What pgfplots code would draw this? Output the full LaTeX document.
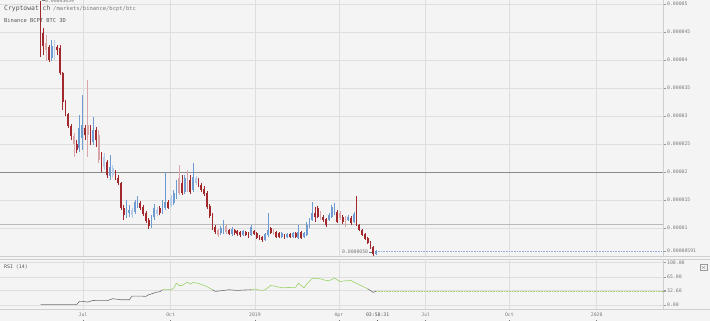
\documentclass[border=0pt]{standalone}
\usepackage{pgfplots}
\pgfplotsset{compat=1.18}
\usepackage{pgfplotstable}
\usepackage{fontspec}
\setmonofont{DejaVu Sans Mono}
\definecolor{bg}{HTML}{F4F4F4}
\definecolor{gridgray}{HTML}{DEDEDE}
\definecolor{axisgray}{HTML}{CFCFCF}
\definecolor{tickgray}{HTML}{9A9A9A}
\definecolor{labelgray}{HTML}{7A7A7A}
\definecolor{titlegray}{HTML}{555555}
\definecolor{cDown}{HTML}{A2282E}
\definecolor{cDownL}{HTML}{D8A6A8}
\definecolor{cUp}{HTML}{6E9BD1}
\definecolor{cUpL}{HTML}{B6CBE7}
\definecolor{lineA}{HTML}{8A8A8A}
\definecolor{lineB}{HTML}{BBBBBB}
\definecolor{rsigray}{HTML}{707070}
\definecolor{rsigreen}{HTML}{9CD36A}

% candles: d = days from 1 Jul 2018, prices in 1e-6 BTC
\pgfplotstableread{
d o h l c
-48 50.18 50.59 40.54 44.82
-45 44.82 45.71 40.89 42.5
-39 42.32 42.68 39.64 40.0
-30 42.32 42.68 40.89 41.79
-27 42.14 42.68 37.32 37.68
-24 37.68 37.86 31.07 32.5
-21 32.5 32.86 30.0 30.36
-18 30.36 30.54 27.86 28.21
-15 28.21 28.57 25.71 26.43
-9 25.0 25.71 23.39 23.93
0 27.86 28.39 25.71 26.61
6 27.5 28.39 24.82 25.36
12 27.5 28.04 24.46 25.71
18 22.68 23.57 20.0 20.71
24 21.79 22.14 18.93 19.46
33 20.0 20.36 18.57 18.93
36 18.93 19.46 17.68 18.04
39 18.04 18.21 13.21 13.57
42 13.57 14.11 11.43 12.32
60 14.46 14.82 13.21 13.57
63 13.75 14.11 12.14 12.5
66 12.68 13.04 10.89 11.25
69 11.43 11.79 9.82 10.36
81 13.57 13.93 12.32 12.68
90 14.64 15.0 13.39 13.57
105 18.04 19.46 15.89 16.25
114 18.57 19.46 16.07 16.43
123 18.57 18.93 17.32 17.68
126 17.68 18.04 16.43 16.79
129 16.96 17.5 15.71 16.07
132 16.25 16.61 13.39 13.75
135 13.93 14.29 11.79 12.14
138 12.32 12.68 9.64 10.0
141 10.18 10.54 8.93 9.29
156 9.64 9.82 8.75 8.93
162 9.64 9.82 8.75 9.11
165 9.46 9.64 8.57 8.93
168 9.29 9.46 8.39 8.75
174 9.29 9.46 8.57 8.75
177 9.11 9.29 8.21 8.39
183 9.46 9.64 8.75 8.93
186 9.11 9.29 8.04 8.21
189 8.57 8.75 7.86 8.21
192 8.39 8.57 7.5 7.86
201 10.0 10.18 8.93 9.11
207 9.29 9.46 8.21 8.39
210 9.11 9.29 8.21 8.39
216 8.75 8.93 8.04 8.21
222 8.93 9.11 8.21 8.39
228 9.11 9.29 8.21 8.39
234 9.29 9.46 8.04 8.21
249 12.68 13.75 11.07 11.96
252 13.57 13.93 11.79 11.96
258 11.96 12.32 11.07 11.43
261 11.61 11.79 10.18 10.54
273 12.86 13.21 10.89 11.07
279 11.96 12.32 10.71 11.07
288 11.79 12.14 10.54 10.89
294 11.96 15.71 10.36 10.54
297 10.54 10.71 9.46 9.64
300 9.64 9.82 8.57 8.75
303 8.93 9.11 7.86 8.04
306 8.21 8.39 7.14 7.32
309 7.5 7.68 6.25 6.61
312 6.61 6.79 5.0 5.36
}\downdark

\pgfplotstableread{
d o h l c
-42 43.04 44.46 39.82 41.79
-12 26.43 26.96 22.68 25.0
3 28.39 36.43 22.68 26.61
15 26.61 27.5 21.61 22.14
102 18.93 21.25 15.89 16.25
111 19.29 20.36 16.43 16.79
144 9.64 9.82 8.39 8.75
153 10.36 10.54 8.93 9.29
204 9.64 9.82 8.75 8.93
255 12.68 13.04 11.43 11.79
276 12.68 13.04 11.43 11.79
282 11.79 12.14 10.18 10.36
}\downlight

\pgfplotstableread{
d o h l c
-36 40.36 43.57 39.82 42.5
-6 24.29 30.18 23.57 27.86
-3 26.07 33.75 23.93 28.39
9 25.36 29.82 24.82 27.5
27 19.29 23.04 18.57 20.89
45 12.32 15.0 11.79 14.64
48 12.68 14.11 11.96 13.21
54 12.86 15.0 12.5 14.64
57 13.93 15.71 13.57 15.36
72 10.54 12.32 10.0 11.96
75 11.96 14.29 11.43 13.57
84 12.86 15.0 12.5 14.46
87 13.57 20.0 13.21 14.64
96 14.46 16.79 14.11 16.25
99 15.54 18.57 15.18 18.04
108 16.43 19.46 16.07 18.93
117 16.79 21.61 16.43 19.11
147 9.11 10.36 8.75 10.0
150 9.29 11.43 8.93 10.89
159 8.93 10.18 8.57 9.82
171 8.75 9.64 8.57 9.46
180 8.75 10.54 8.57 10.18
195 7.86 9.11 7.68 8.93
198 8.75 12.68 8.39 9.64
213 8.39 9.29 8.21 9.11
219 8.39 9.11 8.21 8.93
225 8.39 9.29 8.21 9.11
231 8.21 10.54 8.04 9.29
237 8.39 9.29 8.21 9.11
240 8.75 11.07 8.57 10.54
243 10.18 11.79 10.0 11.43
246 11.43 14.64 11.25 12.68
264 11.43 12.68 11.25 12.32
267 11.96 14.11 11.79 13.75
270 12.68 14.46 12.32 13.21
285 11.43 12.32 11.25 11.96
291 11.07 12.86 10.89 12.5
315 5.36 6.05 5.15 5.91
}\updark

\pgfplotstableread{
d o h l c
-33 40.71 43.57 40.0 42.14
21 20.89 23.39 20.36 22.68
30 19.46 21.25 18.93 20.71
51 12.32 13.57 11.79 13.21
78 12.5 13.75 12.14 13.21
93 14.11 15.89 13.75 15.36
120 18.04 19.29 17.68 18.93
}\uplight

% RSI(14) segments
\pgfplotstableread{
d r
-48 0.8
-9 0.8
-6 8.5
-3 8.5
3 7.0
9 10.8
12 10.1
24 10.1
30 14.7
39 12.4
48 12.4
51 20.9
60 20.9
66 20.2
69 24.0
78 30.2
81 31.0
84 35.7
}\rsiA
\pgfplotstableread{
d r
84 35.7
93 35.7
96 39.5
99 51.2
102 45.7
105 45.7
111 53.5
114 48.8
117 52.7
123 50.4
132 43.4
138 35.7
}\rsiB
\pgfplotstableread{
d r
138 35.7
141 31.8
150 34.1
156 35.7
165 34.1
171 34.9
180 35.7
}\rsiC
\pgfplotstableread{
d r
180 35.7
183 37.2
189 34.9
192 34.1
195 35.7
201 45.7
207 43.4
213 40.3
222 41.1
228 41.1
231 51.2
237 40.3
240 48.8
246 62.8
255 61.2
258 58.9
264 56.6
270 62.8
276 55.0
282 56.6
288 57.4
291 53.5
297 47.3
306 38.0
}\rsiD
\pgfplotstableread{
d r
306 38.0
312 29.5
315 32.6
}\rsiE

\pgfplotsset{
  wick/.style={draw=none, mark=none, error bars/.cd, y dir=plus, y explicit, error mark=none,
    error bar style={draw=#1, line width=0.6pt}},
  body/.style={draw=none, mark=none, error bars/.cd, y dir=plus, y explicit, error mark=none,
    error bar style={draw=#1, line width=1.8pt}},
}
\newcommand{\tlfont}{\ttfamily\fontsize{4.8pt}{5pt}\selectfont}
\newcommand{\tk}[1]{#1\\[1.2pt]\rule{0.45pt}{2.6pt}}

\begin{document}
\begin{tikzpicture}[x=1pt,y=1pt]
\fill[bg] (0,0) rectangle (710,321);
\useasboundingbox (0,0) rectangle (710,321);
\draw[axisgray, line width=0.6pt] (0,65) -- (710,65);
\draw[axisgray, line width=0.6pt] (0,62) -- (710,62);
\draw[axisgray, line width=0.6pt] (0,12) -- (710,12);

\begin{axis}[
  at={(0pt,65pt)}, anchor=south west, scale only axis,
  width=663pt, height=256pt,
  xmin=-91.9, xmax=625.6, ymin=5, ymax=50.714,
  axis x line*=bottom, axis y line*=right,
  x axis line style={draw=none}, y axis line style={draw=axisgray, line width=0.6pt},
  xtick={-2.1,92.8,184,274.9,368.8,459.3,553.8}, xticklabels={}, xtick style={draw=none},
  ytick={10,15,20,25,30,35,40,45,50},
  yticklabels={0.00001,0.000015,0.00002,0.000025,0.00003,0.000035,0.00004,0.000045,0.00005},
  grid=major, grid style={gridgray, line width=0.5pt},
  tick align=outside, major tick length=3pt,
  ytick style={draw=tickgray, line width=0.5pt},
  yticklabel style={font=\tlfont, text=labelgray, anchor=west, inner sep=0pt, xshift=1pt},
  extra y ticks={5.91}, extra y tick labels={0.00000591},
  extra y tick style={grid=none, major tick style={draw=cUp, line width=0.6pt}},
]
\addplot[draw=lineB, line width=1.6pt] coordinates {(-91.9,10.66) (625.6,10.66)};
\addplot[draw=lineA, line width=0.8pt] coordinates {(-91.9,20) (625.6,20)};
\addplot[draw=cUp!80, densely dotted, line width=0.6pt] coordinates {(317,5.91) (625.6,5.91)};

\addplot[wick=cDownL] table[x=d, y=l, y error expr=\thisrow{h}-\thisrow{l}] {\downlight};
\addplot[body=cDownL] table[x=d, y=c, y error expr=\thisrow{o}-\thisrow{c}] {\downlight};
\addplot[wick=cUpL] table[x=d, y=l, y error expr=\thisrow{h}-\thisrow{l}] {\uplight};
\addplot[body=cUpL] table[x=d, y=o, y error expr=\thisrow{c}-\thisrow{o}] {\uplight};
\addplot[wick=cDown] table[x=d, y=l, y error expr=\thisrow{h}-\thisrow{l}] {\downdark};
\addplot[body=cDown] table[x=d, y=c, y error expr=\thisrow{o}-\thisrow{c}] {\downdark};
\addplot[wick=cUp] table[x=d, y=l, y error expr=\thisrow{h}-\thisrow{l}] {\updark};
\addplot[body=cUp] table[x=d, y=o, y error expr=\thisrow{c}-\thisrow{o}] {\updark};

\coordinate (hi) at (axis cs:-48,50.59);
\coordinate (lo) at (axis cs:312,5.0);
\end{axis}

\begin{axis}[
  at={(0pt,12pt)}, anchor=south west, scale only axis,
  width=663pt, height=50pt,
  xmin=-91.9, xmax=625.6, ymin=-9.37, ymax=107.7,
  axis x line*=bottom, axis y line*=right,
  x axis line style={draw=none}, y axis line style={draw=axisgray, line width=0.6pt},
  xtick={-2.1,92.8,184,274.9,368.8,459.3,553.8},
  xticklabels={\tk{Jul},\tk{Oct},\tk{2019},\tk{Apr},\tk{Jul},\tk{Oct},\tk{2020}},
  xtick style={draw=none},
  xticklabel style={font=\tlfont, text=labelgray, align=center, inner sep=0pt, yshift=-1pt},
  extra x ticks={316.8}, extra x tick labels={\tk{03:58:31}},
  extra x tick style={grid=none, xticklabel style={text=titlegray}},
  ytick={0,35,65,100}, yticklabels={0.00,,65.00,100.00},
  grid=major, grid style={gridgray, line width=0.5pt},
  tick align=outside, major tick length=3pt,
  ytick style={draw=tickgray, line width=0.5pt},
  yticklabel style={font=\tlfont, text=labelgray, anchor=west, inner sep=0pt, xshift=1pt},
  extra y ticks={32.6}, extra y tick labels={32.60},
  extra y tick style={grid=none, major tick style={draw=rsigreen, line width=0.6pt}},
]
\addplot[draw=rsigreen, densely dotted, line width=0.6pt] coordinates {(315,32.6) (625.6,32.6)};
\addplot[draw=rsigray, line width=0.6pt] table[x=d, y=r] {\rsiA};
\addplot[draw=rsigreen, line width=0.6pt] table[x=d, y=r] {\rsiB};
\addplot[draw=rsigray, line width=0.6pt] table[x=d, y=r] {\rsiC};
\addplot[draw=rsigreen, line width=0.6pt] table[x=d, y=r] {\rsiD};
\addplot[draw=rsigray, line width=0.6pt] table[x=d, y=r] {\rsiE};
\end{axis}

% annotations
\draw[labelgray, line width=0.4pt] ([xshift=1pt]hi) -- ++(3pt,0)
  node[anchor=west, inner sep=0.4pt, font=\tlfont, text=labelgray] {0.00005059};
\draw[labelgray, line width=0.4pt] ([xshift=-1.5pt,yshift=4pt]lo) -- ++(-3pt,0)
  node[anchor=east, inner sep=0.4pt, font=\tlfont, text=labelgray] {0.0000050};

\node[anchor=base west, inner sep=0pt, font=\ttfamily\fontsize{6.4pt}{7pt}\selectfont, text=titlegray] at (4,310) {Cryptowat.ch};
\node[anchor=base west, inner sep=0pt, font=\ttfamily\fontsize{5.5pt}{6pt}\selectfont, text=labelgray] at (53,310) {/markets/binance/bcpt/btc};
\node[anchor=base west, inner sep=0pt, font=\ttfamily\fontsize{5.4pt}{6pt}\selectfont, text=titlegray] at (4,298.5) {Binance BCPT BTC 3D};
\node[anchor=base west, inner sep=0pt, font=\ttfamily\fontsize{4.9pt}{5pt}\selectfont, text=titlegray] at (4,52) {RSI (14)};
\draw[tickgray, line width=0.4pt] (700,50.5) rectangle (707,56.5);
\draw[tickgray, line width=0.4pt] (701.8,52.3) -- (705.2,54.7) (701.8,54.7) -- (705.2,52.3);
\end{tikzpicture}
\end{document}
